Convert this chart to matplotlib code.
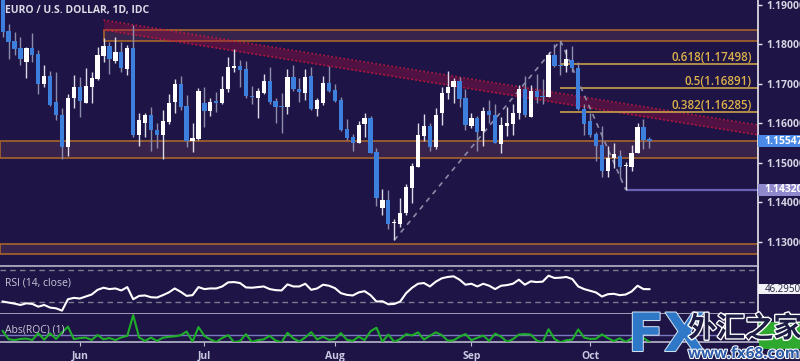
import matplotlib
matplotlib.use("Agg")
import matplotlib.pyplot as plt
import matplotlib.patheffects as pe
from matplotlib.patches import Rectangle
from matplotlib.transforms import blended_transform_factory
import numpy as np

# EUR/USD daily candles, mid May -> mid Oct
opens = [1.1925, 1.1834, 1.1810, 1.1792, 1.1756, 1.1792, 1.1776, 1.1699, 1.1720, 1.1653,
         1.1621, 1.1541, 1.1663, 1.1691, 1.1651, 1.1691, 1.1712, 1.1771, 1.1797, 1.1759,
         1.1780, 1.1737, 1.1792, 1.1571, 1.1602, 1.1620, 1.1583, 1.1571, 1.1604, 1.1653,
         1.1699, 1.1644, 1.1555, 1.1560, 1.1652, 1.1631, 1.1657, 1.1652, 1.1686, 1.1740,
         1.1745, 1.1737, 1.1669, 1.1665, 1.1678, 1.1707, 1.1657, 1.1642, 1.1641, 1.1718,
         1.1687, 1.1678, 1.1720, 1.1636, 1.1651, 1.1703, 1.1685, 1.1659, 1.1586, 1.1566,
         1.1551, 1.1598, 1.1614, 1.1528, 1.1386, 1.1406, 1.1348, 1.1345, 1.1374, 1.1435,
         1.1490, 1.1568, 1.1593, 1.1541, 1.1627, 1.1676, 1.1691, 1.1707, 1.1665, 1.1593,
         1.1613, 1.1581, 1.1631, 1.1621, 1.1547, 1.1593, 1.1598, 1.1625, 1.1687, 1.1617,
         1.1683, 1.1669, 1.1668, 1.1773, 1.1746, 1.1745, 1.1761, 1.1740, 1.1636, 1.1607,
         1.1572, 1.1545, 1.1480, 1.1513, 1.1516, 1.1492, 1.1490, 1.1526, 1.1592, 1.1560]
highs = [1.1935, 1.1852, 1.1832, 1.1818, 1.1794, 1.1828, 1.1786, 1.1748, 1.1733, 1.1729,
         1.1638, 1.1674, 1.1722, 1.1717, 1.1741, 1.1731, 1.1794, 1.1816, 1.1807, 1.1818,
         1.1807, 1.1799, 1.1849, 1.1625, 1.1625, 1.1642, 1.1600, 1.1634, 1.1674, 1.1712,
         1.1720, 1.1672, 1.1600, 1.1689, 1.1691, 1.1663, 1.1680, 1.1720, 1.1767, 1.1788,
         1.1761, 1.1758, 1.1695, 1.1689, 1.1724, 1.1744, 1.1663, 1.1676, 1.1738, 1.1748,
         1.1714, 1.1738, 1.1742, 1.1663, 1.1720, 1.1745, 1.1700, 1.1666, 1.1611, 1.1573,
         1.1607, 1.1627, 1.1619, 1.1537, 1.1433, 1.1431, 1.1357, 1.1410, 1.1446, 1.1499,
         1.1600, 1.1623, 1.1600, 1.1638, 1.1691, 1.1733, 1.1714, 1.1717, 1.1686, 1.1625,
         1.1619, 1.1641, 1.1659, 1.1649, 1.1617, 1.1642, 1.1649, 1.1697, 1.1720, 1.1697,
         1.1724, 1.1712, 1.1780, 1.1800, 1.1810, 1.1788, 1.1796, 1.1756, 1.1649, 1.1627,
         1.1579, 1.1593, 1.1543, 1.1549, 1.1532, 1.1501, 1.1545, 1.1600, 1.1610, 1.1565]
lows = [1.1820, 1.1762, 1.1773, 1.1748, 1.1716, 1.1756, 1.1674, 1.1691, 1.1644, 1.1609,
        1.1510, 1.1518, 1.1640, 1.1615, 1.1651, 1.1651, 1.1710, 1.1756, 1.1725, 1.1752,
        1.1731, 1.1723, 1.1565, 1.1543, 1.1566, 1.1531, 1.1537, 1.1510, 1.1598, 1.1625,
        1.1634, 1.1541, 1.1528, 1.1558, 1.1592, 1.1619, 1.1630, 1.1649, 1.1680, 1.1731,
        1.1691, 1.1665, 1.1649, 1.1613, 1.1674, 1.1649, 1.1602, 1.1575, 1.1624, 1.1682,
        1.1653, 1.1659, 1.1634, 1.1619, 1.1647, 1.1680, 1.1655, 1.1581, 1.1558, 1.1531,
        1.1549, 1.1565, 1.1524, 1.1391, 1.1368, 1.1331, 1.1304, 1.1338, 1.1368, 1.1397,
        1.1489, 1.1554, 1.1531, 1.1534, 1.1596, 1.1661, 1.1652, 1.1641, 1.1583, 1.1587,
        1.1531, 1.1543, 1.1602, 1.1549, 1.1526, 1.1568, 1.1571, 1.1610, 1.1617, 1.1615,
        1.1652, 1.1649, 1.1666, 1.1744, 1.1723, 1.1729, 1.1729, 1.1634, 1.1571, 1.1565,
        1.1505, 1.1465, 1.1465, 1.1486, 1.1461, 1.1432, 1.1480, 1.1524, 1.1535, 1.1537]
closes = [1.1832, 1.1807, 1.1789, 1.1762, 1.1792, 1.1773, 1.1699, 1.1720, 1.1647, 1.1620,
          1.1541, 1.1665, 1.1691, 1.1657, 1.1695, 1.1714, 1.1773, 1.1797, 1.1762, 1.1780,
          1.1740, 1.1792, 1.1571, 1.1609, 1.1620, 1.1582, 1.1571, 1.1607, 1.1651, 1.1699,
          1.1642, 1.1556, 1.1562, 1.1683, 1.1632, 1.1655, 1.1652, 1.1687, 1.1744, 1.1745,
          1.1735, 1.1669, 1.1666, 1.1683, 1.1707, 1.1655, 1.1641, 1.1641, 1.1717, 1.1686,
          1.1679, 1.1718, 1.1636, 1.1658, 1.1703, 1.1683, 1.1657, 1.1583, 1.1562, 1.1551,
          1.1596, 1.1614, 1.1526, 1.1410, 1.1406, 1.1345, 1.1348, 1.1374, 1.1438, 1.1492,
          1.1571, 1.1593, 1.1541, 1.1620, 1.1678, 1.1691, 1.1707, 1.1662, 1.1596, 1.1613,
          1.1577, 1.1631, 1.1620, 1.1551, 1.1596, 1.1600, 1.1625, 1.1687, 1.1621, 1.1683,
          1.1668, 1.1668, 1.1773, 1.1745, 1.1745, 1.1762, 1.1740, 1.1636, 1.1598, 1.1571,
          1.1543, 1.1480, 1.1513, 1.1522, 1.1490, 1.1493, 1.1524, 1.1592, 1.1558, 1.15547]

rsi = [30.8, 29.5, 28.2, 26.5, 28.6, 27.8, 24.4, 26.5, 23.2, 22.3,
       19.4, 33.7, 35.4, 34.6, 37.1, 39.6, 45.5, 48.1, 46.4, 47.2,
       44.7, 48.9, 33.7, 37.9, 38.4, 36.2, 35.8, 38.8, 42.2, 47.2,
       43.0, 37.9, 38.8, 48.9, 46.4, 47.2, 47.2, 49.7, 54.8, 55.2,
       54.0, 48.5, 48.1, 48.9, 49.7, 46.4, 45.1, 44.7, 52.3, 49.7,
       49.7, 53.1, 45.5, 47.2, 51.9, 50.6, 47.6, 41.3, 39.2, 38.4,
       42.2, 43.8, 38.8, 30.8, 31.2, 27.4, 27.8, 30.8, 41.3, 48.1,
       53.1, 54.0, 49.7, 55.7, 59.9, 61.6, 62.4, 58.2, 51.9, 53.1,
       49.7, 53.1, 50.6, 46.4, 50.6, 51.4, 53.1, 58.2, 51.9, 56.1,
       55.2, 55.7, 63.2, 60.3, 60.7, 61.6, 59.0, 49.7, 46.4, 44.3,
       42.2, 37.1, 40.0, 40.5, 38.8, 39.6, 43.4, 50.6, 46.4, 46.295]

month_labels = ["Jun", "Jul", "Aug", "Sep", "Oct"]
month_index = [13, 34, 56, 79, 99]
price_ticks = [1.13, 1.14, 1.15, 1.16, 1.17, 1.18, 1.19]

fib_ratios = ["0.618", "0.5", "0.382"]
fib_levels = [1.17498, 1.16891, 1.16285]
fib_start = 94

zones = [(1.1810, 1.1836, 17), (1.1512, 1.1556, None), (1.1270, 1.1295, None)]
channel_x = [17, 128]
channel_upper = [1.1862, 1.1594]
channel_lower = [1.1837, 1.1569]
swing_index = [66, 94, 105]
support_level = 1.1432
roc_ref = 0.5

BG = "#1e1446"
W, H = 800, 361
plt.rcParams["font.family"] = ["Open Sans", "DejaVu Sans"]


def fy(y):
    return 1 - y / H


o, h, l, c = map(np.array, (opens, highs, lows, closes))
idx = np.arange(len(c))
prev = np.concatenate([[o[0]], c[:-1]])
roc = np.abs(c - prev) / prev * 100

fig = plt.figure(figsize=(8, 3.61), dpi=100, facecolor=BG)
ax = fig.add_axes([0, fy(266), 758 / W, 266 / H], facecolor=BG)
ax_rsi = fig.add_axes([0, fy(314), 758 / W, (314 - 266.5) / H], facecolor=BG, sharex=ax)
ax_roc = fig.add_axes([0, fy(342.3), 758 / W, (342.3 - 314) / H], facecolor=BG, sharex=ax)

xmax = 127.3
ax.set_xlim(-0.45, xmax)
ax.set_ylim(1.19 - 261 / 3945, 1.19 + 5 / 3945)

for a in (ax, ax_rsi, ax_roc):
    a.spines["left"].set_visible(False)
    a.spines["top"].set_visible(False)
    a.spines["right"].set_color("#e8e8f0")
    a.spines["right"].set_linewidth(1.2)
    a.spines["bottom"].set_color("#b8b8cc")
    a.spines["bottom"].set_linewidth(1.2)
    a.tick_params(axis="x", bottom=False, labelbottom=False)
    a.tick_params(axis="y", left=False, labelleft=False)

# zones
for lo, hi, start in zones:
    x0 = -0.45 if start is None else start
    ax.add_patch(Rectangle((x0, lo), xmax - x0, hi - lo, facecolor="#38234d",
                           edgecolor="#a8642c", lw=1.2, zorder=1))

# falling channel
ax.fill_between(channel_x, channel_lower, channel_upper, color="#a01040", alpha=0.38, lw=0, zorder=2)
ax.plot(channel_x, channel_upper, color="#c8183a", lw=1.1, ls=":", zorder=2)
ax.plot(channel_x, channel_lower, color="#c8183a", lw=1.1, ls=":", zorder=2)

# fib levels
for r, lv in zip(fib_ratios, fib_levels):
    ax.hlines(lv, fib_start, xmax, color="#c9a04a", lw=1.2, zorder=2)
    ax.annotate(f"{r}({lv:.5f})", (126.3, lv), xytext=(0, 4.8), textcoords="offset points",
                ha="right", va="center", color="#dcb24a", fontsize=8.4,
                fontweight="semibold", zorder=6)

# swing lines
sw_y = [l[swing_index[0]], h[swing_index[1]], l[swing_index[2]]]
ax.plot(swing_index, sw_y, color="#8c8ca8", lw=1.2, ls=(0, (3, 3)), zorder=2)
ax.hlines(support_level, swing_index[2], xmax, color="#6a62b4", lw=1.6, zorder=2)

# candles
up = c >= o
body_col = np.where(up, "#ffffff", "#3d7fdd")
wick_col = np.where(up, "#dcdce6", "#8c8cab")
ax.vlines(idx, l, h, colors=wick_col, lw=1, zorder=3)
ax.bar(idx, np.maximum(np.abs(c - o), 0.00025), bottom=np.minimum(o, c), width=0.72,
       color=body_col, lw=0, zorder=4)

# price axis
ax.yaxis.tick_right()
ax.set_yticks(price_ticks)
ax.set_yticklabels([f"{p:.5f}" for p in price_ticks])
ax.tick_params(axis="y", right=True, labelright=True, length=3, width=1, color="#e8e8f0",
               labelcolor="#d4d4e2", labelsize=7.5, pad=3)
for t in ax.get_yticklabels():
    t.set_fontweight("bold")

tr = blended_transform_factory(ax.transAxes, ax.transData)
for val, col, txt in [(c[-1], "#4a8ae6", f"{c[-1]:.5f}"), (support_level, "#9088cc", f"{support_level:.5f}")]:
    ax.add_patch(Rectangle((1.0, val - 0.0015), 0.06, 0.003, transform=tr, facecolor=col,
                           edgecolor="none", clip_on=False, zorder=7))
    ax.text(1.009, val, txt, transform=tr, va="center", ha="left", color="white",
            fontsize=7.5, fontweight="bold", clip_on=False, zorder=8)

fig.text(5 / W, fy(10.5), "EURO / U.S. DOLLAR, 1D, IDC", va="center", ha="left",
         color="#dcdce6", fontsize=7.5, fontweight="bold")

# RSI panel
ax_rsi.set_ylim(15.2, 74.7)
ax_rsi.plot(idx, rsi, color="white", lw=1.5, zorder=3)
for lv in (70, 30):
    ax_rsi.axhline(lv, color="#7c7c90", lw=1, ls=(0, (4, 3)), zorder=1)
fig.text(5 / W, fy(283), "RSI (14, close)", va="center", ha="left", color="#c8c8d8", fontsize=7.5)
tr_r = blended_transform_factory(ax_rsi.transAxes, ax_rsi.transData)
ax_rsi.add_patch(Rectangle((1.0, rsi[-1] - 6.5), 0.06, 13, transform=tr_r, facecolor="#f2f2f6",
                           edgecolor="none", clip_on=False, zorder=7))
ax_rsi.text(1.009, rsi[-1], f"{rsi[-1]:.4f}", transform=tr_r, va="center", ha="left",
            color="#202040", fontsize=7, clip_on=False, zorder=8)

# ROC panel
ax_roc.set_ylim(0, 1.95)
ax_roc.axhline(roc_ref, color="#7a78c0", lw=1, zorder=1)
ax_roc.plot(idx, roc, color="#1fae2a", lw=1.5, zorder=3)
fig.text(5 / W, fy(330), "Abs(ROC) (1)", va="center", ha="left", color="#c8c8d8", fontsize=7.5)
fig.add_artist(Rectangle((759 / W, fy(349)), 41 / W, 27 / H, transform=fig.transFigure,
                         facecolor="#2fa82f", edgecolor="none"))

ax_roc.set_xticks(month_index)
ax_roc.set_xticklabels(month_labels)
ax_roc.tick_params(axis="x", bottom=True, labelbottom=True, length=3, color="#c0c0d0",
                   labelcolor="#c8c8e0", labelsize=7.5, pad=3)
for t in ax_roc.get_xticklabels():
    t.set_fontweight("bold")

# watermark
fig.text(628 / W, fy(336), "FX", va="center", ha="left", color="#2f78c8", fontsize=38,
         fontweight="bold", family=["Liberation Sans Narrow", "DejaVu Sans"],
         path_effects=[pe.withStroke(linewidth=1.5, foreground="#d0e0f0")])
fig.text(688 / W, fy(329), "外汇之家", va="center", ha="left", color="#1c1c44", fontsize=20.5,
         fontweight="bold", family=["Noto Sans CJK SC", "DejaVu Sans"],
         path_effects=[pe.withStroke(linewidth=2, foreground="white")])
fig.text(688 / W, fy(354), "www.fx68.com", va="center", ha="left", color="#2a5aa8", fontsize=11,
         fontweight="bold", path_effects=[pe.withStroke(linewidth=1.5, foreground="white")])

fig.savefig("out.png", dpi=100, facecolor=BG)
